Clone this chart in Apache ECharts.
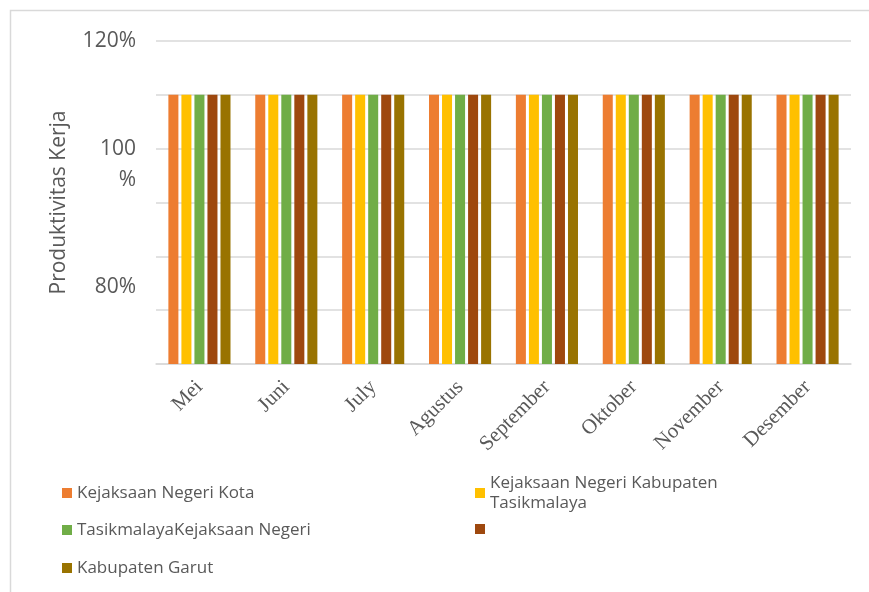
<!DOCTYPE html>
<html>
<head>
<meta charset="utf-8">
<script src="https://cdn.jsdelivr.net/npm/echarts@6/dist/echarts.min.js"></script>
<style>
html,body{margin:0;padding:0;background:#fff;}
#c{width:869px;height:592px;}
</style>
</head>
<body>
<div id="c"></div>
<script>
const categories = ['Mei', 'Juni', 'July', 'Agustus', 'September', 'Oktober', 'November', 'Desember'];
const seriesNames = ['Kejaksaan Negeri Kota', 'Kejaksaan Negeri Kabupaten Tasikmalaya', 'TasikmalayaKejaksaan Negeri', ' ', 'Kabupaten Garut'];
const seriesKota = [110, 110, 110, 110, 110, 110, 110, 110];
const seriesKabTasik = [110, 110, 110, 110, 110, 110, 110, 110];
const seriesTasikKejari = [110, 110, 110, 110, 110, 110, 110, 110];
const seriesBlank = [110, 110, 110, 110, 110, 110, 110, 110];
const seriesGarut = [110, 110, 110, 110, 110, 110, 110, 110];
const seriesColors = ['#ED7D31', '#FFC000', '#70AD47', '#9E480E', '#997300'];
const yTickLabels = { 120: '120%', 100: '100 %', 80: '80%' };
const yAxisTitle = 'Produktivitas Kerja';

const allValues = [seriesKota, seriesKabTasik, seriesTasikKejari, seriesBlank, seriesGarut];

const legendText = { fontFamily: 'Open Sans', fontSize: 17, lineHeight: 20, color: '#595959' };
const legendPos = [
  { left: 62, top: 483 },
  { left: 475, top: 463 },
  { left: 62, top: 520 },
  { left: 475, top: 519 },
  { left: 62, top: 558 }
];

const legends = seriesNames.map((n, i) => {
  const lg = {
    data: [n],
    left: legendPos[i].left,
    top: legendPos[i].top,
    padding: 0,
    itemWidth: 10,
    itemHeight: 10,
    icon: 'rect',
    selectedMode: false,
    textStyle: Object.assign({}, legendText)
  };
  if (i === 1) {
    lg.formatter = (name) => name.replace('Kabupaten ', 'Kabupaten\n');
    lg.textStyle.padding = [20, 0, 0, 0];
  }
  return lg;
});

const chart = echarts.init(document.getElementById('c'));
chart.setOption({
  backgroundColor: '#fff',
  animation: false,
  color: seriesColors,
  graphic: [{
    type: 'rect',
    shape: { x: 10.5, y: 10.5, width: 900, height: 700 },
    style: { fill: 'none', stroke: '#d9d9d9', lineWidth: 1.5 },
    silent: true
  }],
  legend: legends,
  grid: { left: 156, right: 18, top: 41, bottom: 228 },
  xAxis: {
    type: 'category',
    data: categories,
    axisLine: { show: true, lineStyle: { color: '#d9d9d9', width: 1.5 } },
    axisTick: { show: false },
    axisLabel: {
      rotate: 45,
      margin: 20,
      interval: 0,
      fontFamily: 'Liberation Serif',
      fontSize: 21,
      color: '#595959'
    }
  },
  yAxis: {
    type: 'value',
    min: 60,
    max: 120,
    interval: 10,
    name: yAxisTitle,
    nameLocation: 'middle',
    nameGap: 86,
    nameTextStyle: { fontFamily: 'Open Sans', fontSize: 21, color: '#595959' },
    axisLine: { show: false },
    axisTick: { show: false },
    splitLine: { lineStyle: { color: '#d9d9d9', width: 1.5 } },
    axisLabel: {
      margin: 20,
      fontFamily: 'Open Sans',
      fontSize: 21,
      color: '#595959',
      formatter: (v) => {
        const t = yTickLabels[v];
        if (!t) return '';
        if (v === 100) {
          const parts = t.split(' ');
          return '{h| }\n{h|' + parts[0] + '}\n{h|' + parts[1] + '}';
        }
        if (v === 80) return '{l|' + t + '}';
        return t;
      },
      rich: {
        h: { fontFamily: 'Open Sans', fontSize: 21, color: '#595959', lineHeight: 31, align: 'right' },
        l: { fontFamily: 'Open Sans', fontSize: 21, color: '#595959', padding: [62, 0, 0, 0], align: 'right' }
      }
    }
  },
  series: seriesNames.map((n, i) => ({
    name: n,
    type: 'bar',
    data: allValues[i],
    barGap: '30%',
    barCategoryGap: '28.5%',
    itemStyle: { color: seriesColors[i] }
  }))
});
</script>
</body>
</html>
